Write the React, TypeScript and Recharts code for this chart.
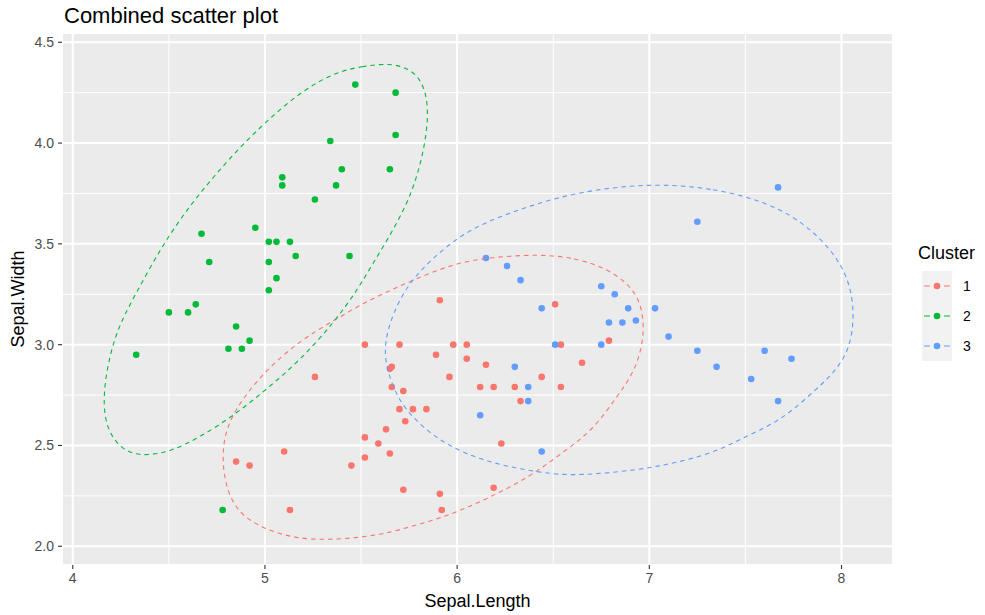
import React from 'react';
import { ScatterChart, Scatter, XAxis, YAxis, CartesianGrid, Legend } from 'recharts';

const clusterNames = ['1', '2', '3'];
const clusterColors = ['#F8766D', '#00BA38', '#619CFF'];

const xTicks = [4, 5, 6, 7, 8];
const xMinorTicks = [4.5, 5.5, 6.5, 7.5];
const yTicks = [2, 2.5, 3, 3.5, 4, 4.5];
const yMinorTicks = [2.25, 2.75, 3.25, 3.75, 4.25];

// cluster 1 (red)
const c1Length = [5.91, 5.52, 5.7, 5.98, 5.89, 5.26, 5.65, 5.66, 5.96, 5.66, 5.72, 5.7, 5.77, 5.84, 5.73, 5.63, 5.52, 5.59, 5.1, 5.65, 5.52, 4.85, 4.92, 5.45, 5.72, 5.91, 5.13, 5.92, 6.51, 6.05, 6.54, 6.79, 6.05, 6.15, 6.65, 6.44, 6.12, 6.19, 6.3, 6.54, 6.33, 6.19, 6.23];
const c1Width = [3.22, 3.0, 3.0, 3.0, 2.95, 2.84, 2.88, 2.89, 2.84, 2.79, 2.77, 2.68, 2.68, 2.68, 2.62, 2.58, 2.54, 2.51, 2.47, 2.46, 2.44, 2.42, 2.4, 2.4, 2.28, 2.26, 2.18, 2.18, 3.2, 3.0, 3.0, 3.02, 2.93, 2.9, 2.91, 2.84, 2.79, 2.79, 2.79, 2.79, 2.72, 2.29, 2.51];

// cluster 2 (green)
const c2Length = [5.47, 5.68, 5.68, 5.34, 5.4, 5.65, 5.09, 5.09, 5.37, 5.26, 4.95, 4.67, 5.02, 5.06, 5.13, 4.71, 5.02, 5.16, 5.44, 5.06, 5.02, 4.5, 4.6, 4.64, 4.85, 4.92, 4.81, 4.88, 4.33, 4.78];
const c2Width = [4.29, 4.25, 4.04, 4.01, 3.87, 3.87, 3.83, 3.79, 3.79, 3.72, 3.58, 3.55, 3.51, 3.51, 3.51, 3.41, 3.41, 3.44, 3.44, 3.33, 3.27, 3.16, 3.16, 3.2, 3.09, 3.02, 2.98, 2.98, 2.95, 2.18];

// cluster 3 (blue)
const c3Length = [7.67, 7.25, 6.15, 6.26, 6.33, 6.75, 6.82, 6.89, 7.03, 6.44, 6.79, 6.86, 6.93, 7.1, 6.51, 6.75, 7.25, 7.6, 7.74, 7.35, 7.53, 7.67, 6.3, 6.37, 6.37, 6.12, 6.44];
const c3Width = [3.78, 3.61, 3.43, 3.39, 3.32, 3.29, 3.25, 3.18, 3.18, 3.18, 3.11, 3.11, 3.12, 3.04, 3.0, 3.0, 2.97, 2.97, 2.93, 2.89, 2.83, 2.72, 2.89, 2.79, 2.72, 2.65, 2.47];

// ellipse outlines
const e1Length = [6.43, 6.61, 6.78, 6.92, 6.97, 6.97, 6.92, 6.83, 6.71, 6.57, 6.43, 6.29, 6.12, 5.95, 5.77, 5.58, 5.32, 5.15, 4.98, 4.84, 4.78, 4.78, 4.85, 4.99, 5.18, 5.36, 5.5, 5.63, 5.77, 5.95, 6.12];
const e1Width = [3.45, 3.43, 3.38, 3.28, 3.16, 3.01, 2.86, 2.74, 2.58, 2.48, 2.38, 2.3, 2.22, 2.15, 2.1, 2.05, 2.03, 2.04, 2.09, 2.18, 2.35, 2.54, 2.69, 2.86, 3.02, 3.12, 3.2, 3.26, 3.32, 3.39, 3.43];

const e2Length = [5.36, 5.5, 5.67, 5.79, 5.84, 5.85, 5.83, 5.79, 5.74, 5.65, 5.56, 5.48, 5.36, 5.18, 5.01, 4.84, 4.66, 4.51, 4.39, 4.28, 4.18, 4.15, 4.21, 4.32, 4.47, 4.61, 4.73, 4.87, 5.01, 5.18];
const e2Width = [4.35, 4.38, 4.4, 4.35, 4.25, 4.13, 3.98, 3.83, 3.7, 3.54, 3.4, 3.27, 3.11, 2.92, 2.78, 2.65, 2.54, 2.47, 2.45, 2.46, 2.56, 2.74, 3.04, 3.24, 3.5, 3.69, 3.83, 3.98, 4.11, 4.25];

const e3Length = [6.99, 7.33, 7.68, 7.91, 8.04, 8.07, 8.04, 7.96, 7.87, 7.73, 7.61, 7.47, 7.37, 7.21, 7.06, 6.95, 6.64, 6.47, 6.29, 6.12, 5.95, 5.82, 5.7, 5.63, 5.62, 5.67, 5.77, 5.98, 6.15, 6.38, 6.64];
const e3Width = [3.8, 3.78, 3.69, 3.52, 3.34, 3.14, 2.97, 2.86, 2.78, 2.66, 2.59, 2.53, 2.48, 2.43, 2.4, 2.38, 2.35, 2.36, 2.39, 2.43, 2.5, 2.59, 2.71, 2.88, 3.01, 3.17, 3.34, 3.52, 3.61, 3.69, 3.76];

const toPoints = (xs: number[], ys: number[]) => xs.map((x, i) => ({ x, y: ys[i] }));

const clusters = [toPoints(c1Length, c1Width), toPoints(c2Length, c2Width), toPoints(c3Length, c3Width)];
const ellipses = [toPoints(e1Length, e1Width), toPoints(e2Length, e2Width), toPoints(e3Length, e3Width)];

const font = '"Liberation Sans", Arial, sans-serif';
const xDomain = [3.944, 8.268];
const yDomain = [1.907, 4.546];

const renderLegend = () => (
  <svg width={73} height={125} style={{ display: 'block', fontFamily: font }}>
    <text x={6} y={19} fontSize={18} fill="#000">Cluster</text>
    <rect x={10} y={31} width={30} height={90} fill="#F2F2F2" />
    {clusterNames.map((n, i) => {
      const cy = 46 + i * 30;
      return (
        <g key={n}>
          <line x1={12} x2={38} y1={cy} y2={cy} stroke={clusterColors[i]} strokeWidth={1.1} strokeDasharray="6 4" />
          <circle cx={25} cy={cy} r={3.3} fill={clusterColors[i]} />
          <text x={51} y={cy + 5} fontSize={14} fill="#000">{n}</text>
        </g>
      );
    })}
  </svg>
);

const App: React.FC = () => {
  return (
    <div style={{ position: 'absolute', left: 0, top: 0, width: 985, height: 615, background: '#fff', fontFamily: font }}>
      <div style={{ position: 'absolute', left: 64, top: 4, fontSize: 22, lineHeight: '24px', color: '#000', whiteSpace: 'nowrap' }}>
        Combined scatter plot
      </div>
      <ScatterChart width={985} height={615} margin={{ top: 33, right: 92, bottom: 5, left: 8 }}>
        {/* minor grid + panel background */}
        <CartesianGrid xAxisId="minor" yAxisId="minor" fill="#EBEBEB" stroke="#FFFFFF" strokeWidth={1} />
        {/* major grid */}
        <CartesianGrid stroke="#FFFFFF" strokeWidth={2} />
        <XAxis xAxisId="minor" type="number" dataKey="x" domain={xDomain} ticks={xMinorTicks} allowDataOverflow hide />
        <YAxis yAxisId="minor" type="number" dataKey="y" domain={yDomain} ticks={yMinorTicks} allowDataOverflow hide />
        <XAxis
          type="number"
          dataKey="x"
          domain={xDomain}
          ticks={xTicks}
          allowDataOverflow
          height={45}
          axisLine={false}
          tickLine={{ stroke: '#333333', strokeWidth: 1.1 }}
          tickSize={4}
          tickMargin={4}
          tick={{ fill: '#4D4D4D', fontSize: 14, fontFamily: font }}
          label={{
            content: ({ viewBox }: any) => (
              <text x={viewBox.x + viewBox.width / 2} y={viewBox.y + 42} textAnchor="middle" fontSize={18} fill="#000" fontFamily={font}>
                Sepal.Length
              </text>
            ),
          }}
        />
        <YAxis
          type="number"
          dataKey="y"
          domain={yDomain}
          ticks={yTicks}
          allowDataOverflow
          width={54}
          axisLine={false}
          tickLine={{ stroke: '#333333', strokeWidth: 1.1 }}
          tickSize={4}
          tickMargin={4}
          tickFormatter={(v: number) => v.toFixed(1)}
          tick={{ fill: '#4D4D4D', fontSize: 14, fontFamily: font }}
          label={{
            content: ({ viewBox }: any) => {
              const x = viewBox.x + 16;
              const y = viewBox.y + viewBox.height / 2;
              return (
                <text x={x} y={y} transform={`rotate(-90 ${x} ${y})`} textAnchor="middle" fontSize={18} fill="#000" fontFamily={font}>
                  Sepal.Width
                </text>
              );
            },
          }}
        />
        {clusters.map((pts, i) => (
          <Scatter
            key={`pts-${i}`}
            data={pts}
            fill={clusterColors[i]}
            isAnimationActive={false}
            shape={(p: any) => <circle cx={p.cx} cy={p.cy} r={3.3} fill={clusterColors[i]} />}
          />
        ))}
        {ellipses.map((pts, i) => (
          <Scatter
            key={`ell-${i}`}
            data={pts}
            fill={clusterColors[i]}
            isAnimationActive={false}
            line={{ stroke: clusterColors[i], strokeWidth: 1.1, strokeDasharray: '4.5 4', fill: 'none' }}
            lineJointType="basisClosed"
            shape={() => <g />}
          />
        ))}
        <Legend
          layout="vertical"
          align="center"
          verticalAlign="middle"
          wrapperStyle={{ left: 912, top: 240, width: 73, height: 125 }}
          content={renderLegend}
        />
      </ScatterChart>
    </div>
  );
};

export default App;
